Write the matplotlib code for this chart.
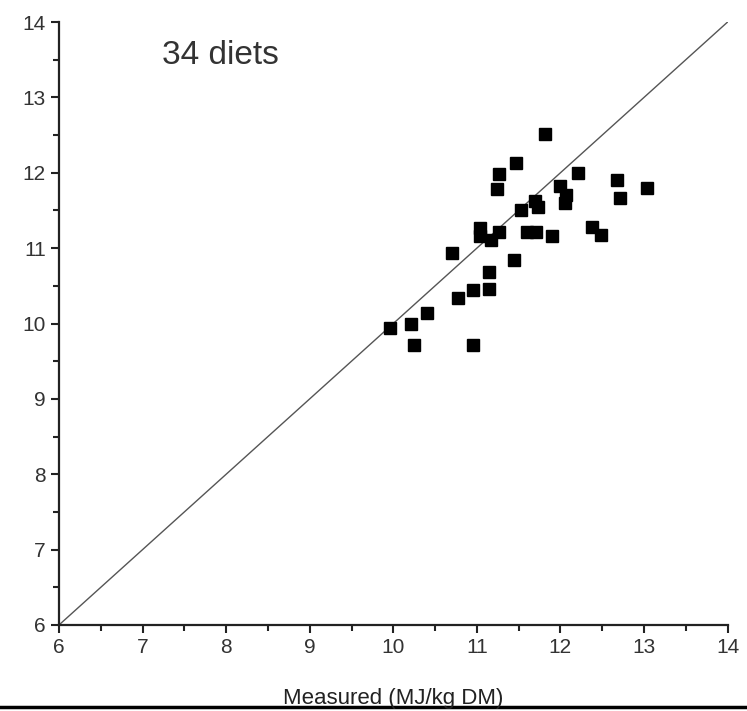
import matplotlib
matplotlib.use("Agg")
import matplotlib.pyplot as plt
from matplotlib.ticker import MultipleLocator
from matplotlib.lines import Line2D

plt.rcParams['font.family'] = ['Liberation Sans', 'DejaVu Sans']

# measured vs predicted energy, 34 diets
measured = [11.81, 11.47, 11.27, 11.24, 12.21, 12.68, 13.04, 12.71, 11.99, 12.07,
            12.05, 11.70, 11.73, 11.53, 11.04, 11.04, 11.17, 11.27, 11.60, 11.71,
            11.90, 12.38, 12.49, 11.44, 10.70, 11.14, 10.95, 11.14, 10.77, 10.40,
            10.21, 9.96, 10.25, 10.95]
predicted = [12.51, 12.13, 11.98, 11.78, 12.00, 11.91, 11.80, 11.67, 11.82, 11.71,
             11.60, 11.63, 11.55, 11.50, 11.27, 11.16, 11.11, 11.21, 11.21, 11.21,
             11.16, 11.28, 11.18, 10.84, 10.94, 10.69, 10.45, 10.46, 10.34, 10.14,
             10.00, 9.94, 9.71, 9.71]
line_range = [6, 14]
ticks = list(range(6, 15))

fig = plt.figure(figsize=(7.47, 7.11), dpi=100)
ax = fig.add_axes([0.079, 0.121, 0.895, 0.848])

ax.plot(line_range, line_range, color='#555555', linewidth=1.0, zorder=1)
ax.plot(measured, predicted, 's', color='black', markersize=8.8, zorder=2)

ax.set_xlim(6, 14)
ax.set_ylim(6, 14)
ax.set_xticks(ticks)
ax.set_yticks(ticks)
ax.xaxis.set_minor_locator(MultipleLocator(0.5))
ax.yaxis.set_minor_locator(MultipleLocator(0.5))

for side in ['top', 'right']:
    ax.spines[side].set_visible(False)
for side in ['left', 'bottom']:
    ax.spines[side].set_linewidth(1.6)
    ax.spines[side].set_color('#222222')

ax.tick_params(which='major', direction='out', length=6, width=1.5,
               labelsize=15, labelcolor='#333333', color='#222222')
ax.tick_params(which='minor', direction='out', length=4, width=1.5, color='#222222')

ax.text(7.23, 13.56, '34 diets', fontsize=24, color='#333333',
        ha='left', va='center')

fig.text(0.526, 0.003, 'Measured (MJ/kg DM)', fontsize=16, color='#222222',
         ha='center', va='bottom')
fig.add_artist(Line2D([0, 1], [0.005, 0.005], color='black', linewidth=2.5,
                      transform=fig.transFigure, zorder=0))

fig.savefig('out.png', dpi=100)
